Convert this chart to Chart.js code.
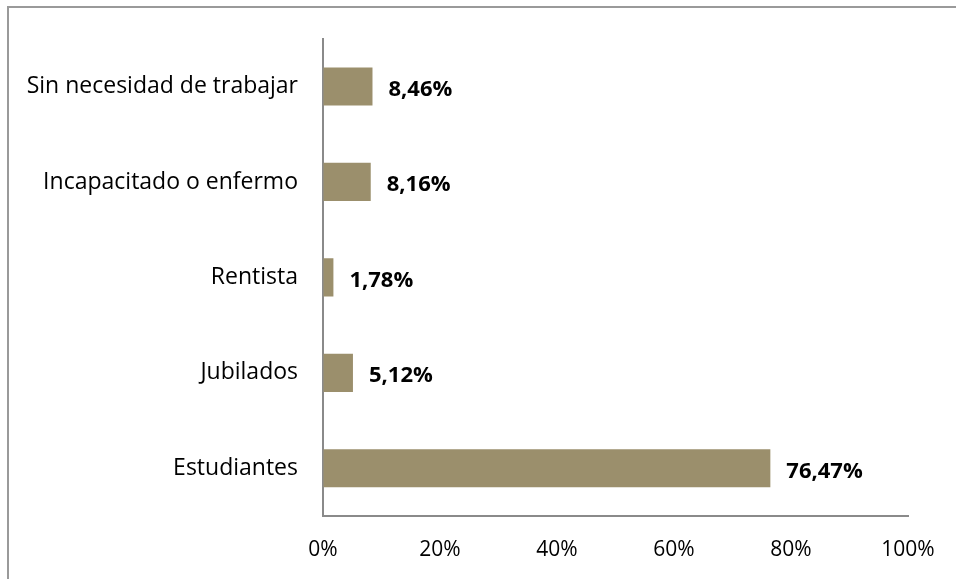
<!DOCTYPE html>
<html>
<head>
<meta charset="utf-8">
<script src="https://cdn.jsdelivr.net/npm/chart.js@4/dist/chart.umd.min.js"></script>
<style>
  html, body { margin: 0; padding: 0; background: #fff; overflow: hidden; }
  #wrap { position: relative; width: 956px; height: 579px; }
  #frame { position: absolute; left: 7px; top: 6px; width: 1000px; height: 1000px; border-top: 2px solid #9a9a9a; border-left: 2px solid #9a9a9a; box-sizing: border-box; }
  canvas { position: absolute; left: 0; top: 0; }
</style>
</head>
<body>
<div id="wrap">
  <div id="frame"></div>
  <canvas id="c" width="956" height="579"></canvas>
</div>
<script>
const categories = ["Sin necesidad de trabajar", "Incapacitado o enfermo", "Rentista", "Jubilados", "Estudiantes"];
const values = [8.46, 8.16, 1.78, 5.12, 76.47];
const valueLabels = ["8,46%", "8,16%", "1,78%", "5,12%", "76,47%"];
const xTicks = [0, 20, 40, 60, 80, 100];

const FONT = "'Open Sans', sans-serif";

const dataLabels = {
  id: 'dataLabels',
  afterDatasetsDraw(chart) {
    const ctx = chart.ctx;
    const meta = chart.getDatasetMeta(0);
    ctx.save();
    ctx.font = "bold 22px " + FONT;
    ctx.fillStyle = "#000";
    ctx.textAlign = "left";
    ctx.textBaseline = "middle";
    meta.data.forEach((bar, i) => {
      ctx.fillText(valueLabels[i], bar.x + 16, bar.y + 3);
    });
    ctx.restore();
  }
};

new Chart(document.getElementById('c'), {
  type: 'bar',
  data: {
    labels: categories,
    datasets: [{
      data: values,
      backgroundColor: '#9b8f6c',
      borderWidth: 0,
      barPercentage: 0.8,
      categoryPercentage: 0.5
    }]
  },
  options: {
    indexAxis: 'y',
    responsive: false,
    animation: false,
    layout: { padding: { left: 0, right: 48, top: 37, bottom: 0 } },
    plugins: { legend: { display: false }, tooltip: { enabled: false } },
    scales: {
      x: {
        min: 0, max: 100,
        afterBuildTicks(scale) { scale.ticks = xTicks.map(v => ({ value: v })); },
        grid: { drawOnChartArea: false, drawTicks: false },
        border: { display: true, color: '#8a8a8a', width: 2 },
        ticks: {
          padding: 21,
          color: '#000',
          font: { family: FONT, size: 21 },
          callback: v => v + '%'
        },
        afterFit(scale) { scale.height = 63; }
      },
      y: {
        grid: { drawOnChartArea: false, drawTicks: false },
        border: { display: true, color: '#8a8a8a', width: 2 },
        ticks: {
          padding: 25,
          color: '#000',
          font: { family: FONT, size: 23 }
        },
        afterFit(scale) { scale.width = 323; }
      }
    }
  },
  plugins: [dataLabels]
});
</script>
</body>
</html>
